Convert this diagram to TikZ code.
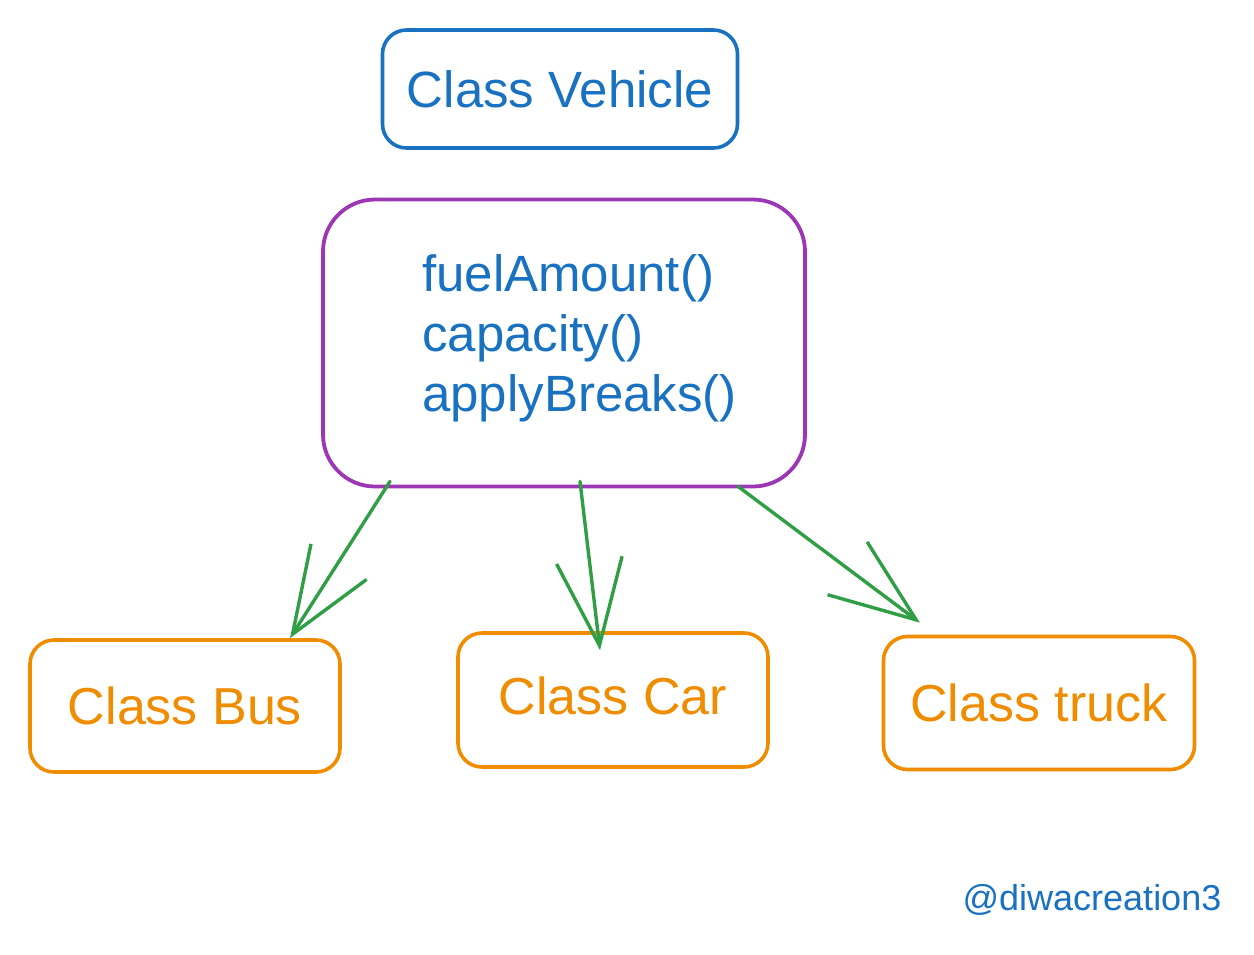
\documentclass[tikz,border=0pt]{standalone}
\usepackage{fontspec}
\setmainfont{Liberation Sans}
\usetikzlibrary{arrows.meta,positioning,calc}
\definecolor{sketchblue}{RGB}{25, 113, 194}
\definecolor{sketchpurple}{RGB}{156, 54, 181}
\definecolor{sketchorange}{RGB}{240, 140, 0}
\definecolor{sketchgreen}{RGB}{47, 158, 68}

\begin{document}
\begin{tikzpicture}[
    x=1pt, y=-1pt,
    classbox/.style={rectangle, draw, rounded corners=24pt, line width=3.6pt,
                     align=center, font=\fontsize{52}{60}\selectfont},
    methbox/.style={rectangle, draw=sketchpurple, rounded corners=52pt, line width=3.8pt,
                    minimum width=482pt, minimum height=287pt},
    arr/.style={-{Straight Barb[length=86pt, width=66pt]}, line width=3.4pt,
                sketchgreen, line cap=round, line join=round},
  ]
    \useasboundingbox (0,0) rectangle (1254,954);

    % Base class
    \node[classbox, draw=sketchblue, text=sketchblue, minimum width=355pt,
          minimum height=118pt, font=\fontsize{51}{60}\selectfont] (veh) at (560,89) {Class Vehicle};

    % Shared methods
    \node[methbox] (meth) at (564,343) {};
    \node[align=left, anchor=north west, text=sketchblue, inner sep=0pt,
          font=\fontsize{51}{60}\selectfont] (mlist) at (422,254)
          {fuelAmount()\\capacity()\\applyBreaks()};

    % Child classes
    \node[classbox, draw=sketchorange, text=sketchorange, minimum width=310pt,
          minimum height=132pt] (bus) at (185,706) {Class Bus};
    \node[classbox, draw=sketchorange, text=sketchorange, minimum width=310pt,
          minimum height=134pt] (car) at (613,700) {\raisebox{8pt}{Class Car}};
    \node[classbox, draw=sketchorange, text=sketchorange, minimum width=311pt,
          minimum height=133pt] (truck) at (1039,703) {Class truck};

    % Arrows
    \draw[arr] ([xshift=-174pt, yshift=7pt]meth.south) -- ([xshift=105pt]bus.north);
    \draw[arr] ([xshift=16pt, yshift=7pt]meth.south) -- ([xshift=-13pt, yshift=-19pt]car.north);
    \draw[arr] ([xshift=174pt, yshift=2pt]meth.south) -- ([xshift=-119pt, yshift=12pt]truck.north);

    % Signature
    \node[text=sketchblue, font=\fontsize{36}{42}\selectfont] (sig) at (1092,900) {@diwacreation3};
  \end{tikzpicture}
\end{document}
